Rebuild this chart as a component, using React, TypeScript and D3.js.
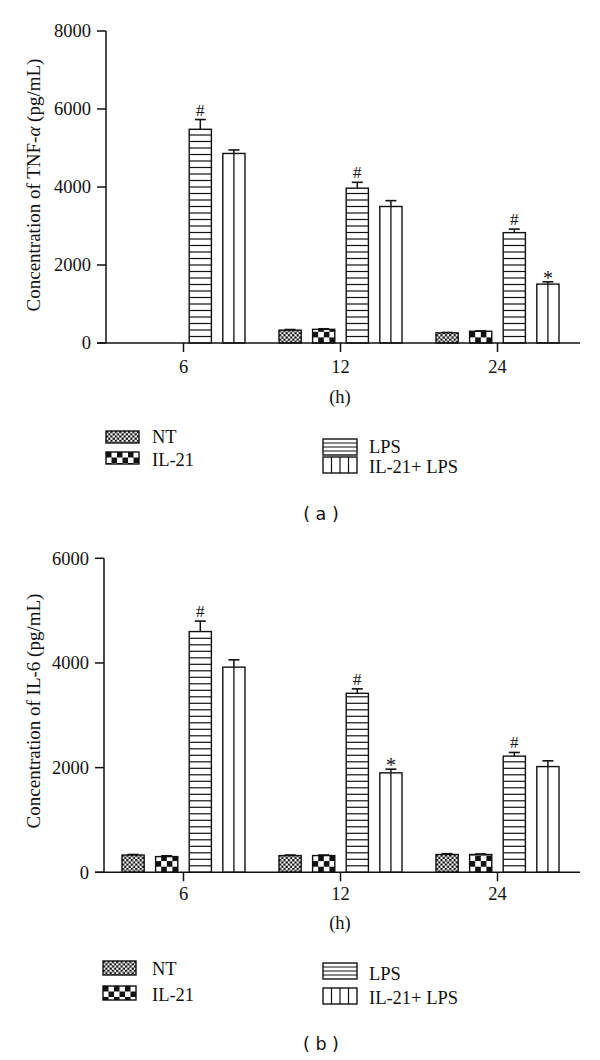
import React from "react";
import * as d3 from "d3";

// ---------- data ----------
const timeLabels = ["6", "12", "24"];
const seriesNames = ["NT", "IL-21", "LPS", "IL-21+ LPS"];

// Panel (a): TNF-alpha (pg/mL)
const tnfTicks = [0, 2000, 4000, 6000, 8000];
const tnfNT: (number | null)[] = [null, 330, 260];
const tnfIL21: (number | null)[] = [null, 350, 300];
const tnfLPS: (number | null)[] = [5480, 3970, 2830];
const tnfIL21LPS: (number | null)[] = [4860, 3500, 1510];
const tnfErrNT = [0, 15, 10];
const tnfErrIL21 = [0, 15, 10];
const tnfErrLPS = [250, 150, 90];
const tnfErrIL21LPS = [90, 150, 60];
const tnfMarksLPS = ["#", "#", "#"];
const tnfMarksIL21LPS = ["", "", "*"];

// Panel (b): IL-6 (pg/mL)
const il6Ticks = [0, 2000, 4000, 6000];
const il6NT: (number | null)[] = [330, 320, 340];
const il6IL21: (number | null)[] = [300, 320, 340];
const il6LPS: (number | null)[] = [4600, 3420, 2220];
const il6IL21LPS: (number | null)[] = [3920, 1900, 2020];
const il6ErrNT = [10, 10, 15];
const il6ErrIL21 = [15, 10, 10];
const il6ErrLPS = [200, 85, 70];
const il6ErrIL21LPS = [140, 70, 110];
const il6MarksLPS = ["#", "#", "#"];
const il6MarksIL21LPS = ["", "*", ""];

const SERIF = "'Liberation Serif', 'Times New Roman', serif";
const SANS = "'DejaVu Sans', Verdana, sans-serif";

type PanelProps = {
  pid: string;
  axisX: number;
  baseY: number;
  topY: number;
  yMax: number;
  ticks: number[];
  values: (number | null)[][];
  errors: number[][];
  marks: string[][];
  yLabel: React.ReactNode;
  yLabelCenter: number;
  legendLeftX: number;
  legendNT: [number, number, number]; // y, h, text baseline
  legendIL: [number, number, number];
  legendLPS: [number, number, number];
  legendIL21LPS: [number, number, number];
  hBaseline: number;
  catBaseline: number;
  panelLabel: string;
  panelBaseline: number;
};

function checkerPattern(id: string, x: number, y: number, s: number) {
  return (
    <pattern id={id} patternUnits="userSpaceOnUse" x={x} y={y} width={2 * s} height={2 * s}>
      <rect x={0} y={0} width={2 * s} height={2 * s} fill="#fff" />
      <rect x={0} y={0} width={s} height={s} fill="#111" />
      <rect x={s} y={s} width={s} height={s} fill="#111" />
    </pattern>
  );
}

function Swatch(props: { kind: number; x: number; y: number; w: number; h: number; id: string }) {
  const { kind, x, y, w, h, id } = props;
  const defs: React.ReactNode[] = [];
  const inner: React.ReactNode[] = [];
  let fill = "#fff";
  if (kind === 0) {
    defs.push(<React.Fragment key="p">{checkerPattern(id, x, y, 2.2)}</React.Fragment>);
    fill = `url(#${id})`;
  } else if (kind === 1) {
    defs.push(<React.Fragment key="p">{checkerPattern(id, x, y, 5.5)}</React.Fragment>);
    fill = `url(#${id})`;
  } else if (kind === 2) {
    for (let k = 1; k <= 3; k++) {
      const yy = y + (h * k) / 4;
      inner.push(<line key={k} x1={x} x2={x + w} y1={yy} y2={yy} stroke="#111" strokeWidth={1.2} />);
    }
  } else {
    for (let k = 1; k <= 3; k++) {
      const xx = x + (w * k) / 4;
      inner.push(<line key={k} x1={xx} x2={xx} y1={y} y2={y + h} stroke="#111" strokeWidth={1.2} />);
    }
  }
  return (
    <g>
      <defs>{defs}</defs>
      <rect x={x} y={y} width={w} height={h} fill={fill} />
      {inner}
      <rect x={x} y={y} width={w} height={h} fill="none" stroke="#111" strokeWidth={1.4} />
    </g>
  );
}

function Panel(p: PanelProps) {
  const y = d3.scaleLinear().domain([0, p.yMax]).range([p.baseY, p.topY]);
  const xOuter = d3.scaleBand<string>().domain(timeLabels).range([105, 576]).padding(0);
  const xInner = d3
    .scaleBand<string>()
    .domain(seriesNames)
    .range([-61.5, 61.5])
    .paddingInner(0.34)
    .paddingOuter(0);
  const bw = xInner.bandwidth();

  const bars: React.ReactNode[] = [];
  const defs: React.ReactNode[] = [];
  seriesNames.forEach((s, si) => {
    timeLabels.forEach((t, ti) => {
      const v = p.values[si][ti];
      if (v == null) return;
      const cx = (xOuter(t) as number) + xOuter.bandwidth() / 2;
      const bx = cx + (xInner(s) as number);
      const by = y(v);
      const bh = p.baseY - by;
      const mid = bx + bw / 2;
      const id = `${p.pid}-${si}-${ti}`;
      const parts: React.ReactNode[] = [];
      let fill = "#fff";
      if (si === 0) {
        defs.push(<React.Fragment key={id}>{checkerPattern(id, bx, p.baseY, 2.2)}</React.Fragment>);
        fill = `url(#${id})`;
      } else if (si === 1) {
        defs.push(<React.Fragment key={id}>{checkerPattern(id, bx, p.baseY, 5.6)}</React.Fragment>);
        fill = `url(#${id})`;
      } else if (si === 2) {
        for (let yy = p.baseY - 6.5; yy > by + 2; yy -= 6.5) {
          parts.push(<line key={yy} x1={bx} x2={bx + bw} y1={yy} y2={yy} stroke="#111" strokeWidth={1.2} />);
        }
      } else {
        parts.push(<line key="v" x1={mid} x2={mid} y1={by} y2={p.baseY} stroke="#111" strokeWidth={1.3} />);
      }
      const e = p.errors[si][ti];
      const ey = y(v + e);
      const mark = p.marks[si] ? p.marks[si][ti] : "";
      bars.push(
        <g key={id}>
          <line x1={mid} x2={mid} y1={by} y2={ey} stroke="#111" strokeWidth={1.5} />
          <line x1={mid - 5.5} x2={mid + 5.5} y1={ey} y2={ey} stroke="#111" strokeWidth={1.6} />
          <rect x={bx} y={by} width={bw} height={bh} fill={fill} />
          {parts}
          <rect x={bx} y={by} width={bw} height={bh} fill="none" stroke="#111" strokeWidth={1.4} />
          {mark === "#" && (
            <text x={mid} y={ey - 4} textAnchor="middle" fontFamily={SERIF} fontSize={17} fill="#111">
              #
            </text>
          )}
          {mark === "*" && (
            <text x={mid} y={ey + 3} textAnchor="middle" fontFamily={SERIF} fontSize={20} fill="#111">
              *
            </text>
          )}
        </g>
      );
    });
  });

  const lx = p.legendLeftX;
  const rx = 323;
  return (
    <g>
      <defs>{defs}</defs>
      {bars}
      {/* y axis */}
      <line x1={p.axisX} x2={p.axisX} y1={p.topY} y2={p.baseY} stroke="#111" strokeWidth={1.5} />
      {p.ticks.map((t) => (
        <g key={t}>
          <line x1={p.axisX - 9} x2={p.axisX} y1={y(t)} y2={y(t)} stroke="#111" strokeWidth={1.5} />
          <text
            x={p.axisX - 15}
            y={y(t)}
            dy="0.35em"
            textAnchor="end"
            fontFamily={SERIF}
            fontSize={18.5}
            fill="#111"
          >
            {t}
          </text>
        </g>
      ))}
      {/* x axis */}
      <line x1={p.axisX - 9} x2={580} y1={p.baseY} y2={p.baseY} stroke="#111" strokeWidth={1.5} />
      {timeLabels.map((t) => {
        const cx = (xOuter(t) as number) + xOuter.bandwidth() / 2;
        return (
          <g key={t}>
            <line x1={cx} x2={cx} y1={p.baseY} y2={p.baseY + 9} stroke="#111" strokeWidth={1.5} />
            <text x={cx} y={p.catBaseline} textAnchor="middle" fontFamily={SERIF} fontSize={18.5} fill="#111">
              {t}
            </text>
          </g>
        );
      })}
      <text x={340} y={p.hBaseline} textAnchor="middle" fontFamily={SERIF} fontSize={18.5} fill="#111">
        (h)
      </text>
      <text
        transform={`translate(33,${p.yLabelCenter}) rotate(-90)`}
        textAnchor="middle"
        dy="0.35em"
        fontFamily={SERIF}
        fontSize={19}
        fill="#111"
      >
        {p.yLabel}
      </text>
      {/* legend */}
      <Swatch kind={0} id={`${p.pid}-lg0`} x={lx} y={p.legendNT[0]} w={33} h={p.legendNT[1]} />
      <text x={152} y={p.legendNT[2]} fontFamily={SERIF} fontSize={18.5} fill="#111">
        {seriesNames[0]}
      </text>
      <Swatch kind={1} id={`${p.pid}-lg1`} x={lx} y={p.legendIL[0]} w={33} h={p.legendIL[1]} />
      <text x={152} y={p.legendIL[2]} fontFamily={SERIF} fontSize={18.5} fill="#111">
        {seriesNames[1]}
      </text>
      <Swatch kind={2} id={`${p.pid}-lg2`} x={rx} y={p.legendLPS[0]} w={34} h={p.legendLPS[1]} />
      <text x={369} y={p.legendLPS[2]} fontFamily={SERIF} fontSize={18.5} fill="#111">
        {seriesNames[2]}
      </text>
      <Swatch kind={3} id={`${p.pid}-lg3`} x={rx} y={p.legendIL21LPS[0]} w={34} h={p.legendIL21LPS[1]} />
      <text x={369} y={p.legendIL21LPS[2]} fontFamily={SERIF} fontSize={18.5} fill="#111">
        {seriesNames[3]}
      </text>
      <text x={321} y={p.panelBaseline} textAnchor="middle" fontFamily={SANS} fontSize={17.5} fill="#111">
        {p.panelLabel}
      </text>
    </g>
  );
}

export default function App() {
  return (
    <svg
      width={600}
      height={1060}
      viewBox="0 0 600 1060"
      style={{ position: "absolute", left: 0, top: 0, background: "#fff" }}
    >
      <rect x={0} y={0} width={600} height={1060} fill="#fff" />
      <Panel
        pid="a"
        axisX={106}
        baseY={343}
        topY={31}
        yMax={8000}
        ticks={tnfTicks}
        values={[tnfNT, tnfIL21, tnfLPS, tnfIL21LPS]}
        errors={[tnfErrNT, tnfErrIL21, tnfErrLPS, tnfErrIL21LPS]}
        marks={[[], [], tnfMarksLPS, tnfMarksIL21LPS]}
        yLabel={
          <>
            Concentration of TNF-<tspan fontStyle="italic">α</tspan> (pg/mL)
          </>
        }
        yLabelCenter={185}
        legendLeftX={106}
        legendNT={[431, 12, 443]}
        legendIL={[452, 12, 466]}
        legendLPS={[439, 16, 453]}
        legendIL21LPS={[457, 16, 473]}
        hBaseline={403}
        catBaseline={373}
        panelLabel="( a )"
        panelBaseline={520}
      />
      <Panel
        pid="b"
        axisX={104}
        baseY={872.3}
        topY={558.3}
        yMax={6000}
        ticks={il6Ticks}
        values={[il6NT, il6IL21, il6LPS, il6IL21LPS]}
        errors={[il6ErrNT, il6ErrIL21, il6ErrLPS, il6ErrIL21LPS]}
        marks={[[], [], il6MarksLPS, il6MarksIL21LPS]}
        yLabel={<>Concentration of IL-6 (pg/mL)</>}
        yLabelCenter={711}
        legendLeftX={103}
        legendNT={[961, 14, 975]}
        legendIL={[986, 14, 1001]}
        legendLPS={[963, 16, 980]}
        legendIL21LPS={[988, 16, 1004]}
        hBaseline={929}
        catBaseline={900}
        panelLabel="( b )"
        panelBaseline={1050}
      />
    </svg>
  );
}
